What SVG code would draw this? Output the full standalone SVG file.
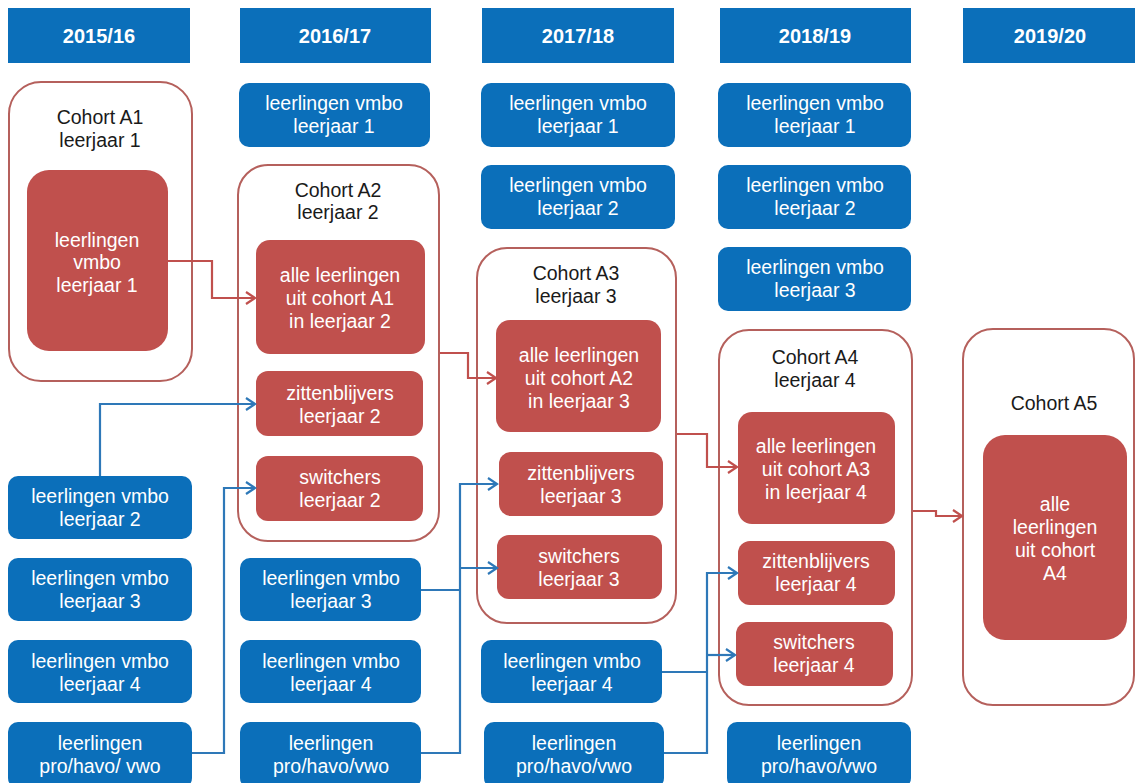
<svg xmlns="http://www.w3.org/2000/svg" width="1135" height="783" viewBox="0 0 1135 783">
<style>
text{font-family:"Liberation Sans",Arial,sans-serif;font-size:19.5px;text-anchor:middle}
.hd{fill:#0b6fba}
.hdt{fill:#fff;font-weight:bold;font-size:20px}
.bl{fill:#0b6fba}
.rd{fill:#c0504d}
.co{fill:#fff;stroke:#b5605c;stroke-width:2}
.wt{fill:#fff}
.bk{fill:#1a1a1a}
.cr{fill:none;stroke:#c0504d;stroke-width:2.2}
.cb{fill:none;stroke:#2e78b8;stroke-width:2.2}
</style>
<defs>
<marker id="ar" markerUnits="userSpaceOnUse" markerWidth="14" markerHeight="14" refX="12" refY="7" orient="auto"><path d="M3,1 L12,7 L3,13" fill="none" stroke="#c0504d" stroke-width="2.2"/></marker>
<marker id="ab" markerUnits="userSpaceOnUse" markerWidth="14" markerHeight="14" refX="12" refY="7" orient="auto"><path d="M3,1 L12,7 L3,13" fill="none" stroke="#2e78b8" stroke-width="2.2"/></marker>
</defs>
<rect width="1135" height="783" fill="#fff"/>
<g id="headers">
<rect class="hd" x="8" y="8" width="182" height="55"/><text class="hdt" x="99" y="43">2015/16</text>
<rect class="hd" x="240" y="8" width="191" height="55"/><text class="hdt" x="335" y="43">2016/17</text>
<rect class="hd" x="482" y="8" width="192" height="55"/><text class="hdt" x="578" y="43">2017/18</text>
<rect class="hd" x="720" y="8" width="191" height="55"/><text class="hdt" x="815" y="43">2018/19</text>
<rect class="hd" x="963" y="8" width="172" height="55"/><text class="hdt" x="1050" y="43">2019/20</text>
</g>
<g id="cohortA1">
<rect class="co" x="9" y="82" width="183" height="299" rx="32"/>
<text class="bk" x="100" y="123.5">Cohort A1</text><text class="bk" x="100" y="146.5">leerjaar 1</text>
<rect class="rd" x="27" y="170" width="141" height="181" rx="22"/>
<text class="wt" x="97" y="246.5">leerlingen</text><text class="wt" x="97" y="268.5">vmbo</text><text class="wt" x="97" y="291.5">leerjaar 1</text>
</g>
<g id="c1-vmbo2"><rect class="bl" x="8" y="476" width="184" height="63" rx="10"/><text class="wt" x="100" y="503">leerlingen vmbo</text><text class="wt" x="100" y="526">leerjaar 2</text></g>
<g id="c1-vmbo3"><rect class="bl" x="8" y="558" width="184" height="63" rx="10"/><text class="wt" x="100" y="584.5">leerlingen vmbo</text><text class="wt" x="100" y="607.5">leerjaar 3</text></g>
<g id="c1-vmbo4"><rect class="bl" x="8" y="640" width="184" height="63" rx="10"/><text class="wt" x="100" y="667.5">leerlingen vmbo</text><text class="wt" x="100" y="690.5">leerjaar 4</text></g>
<g id="c1-pro"><rect class="bl" x="8" y="722" width="184" height="66" rx="10"/><text class="wt" x="100" y="749.5">leerlingen</text><text class="wt" x="100" y="772.5">pro/havo/ vwo</text></g>

<g id="c2-vmbo1"><rect class="bl" x="239" y="83" width="191" height="64" rx="10"/><text class="wt" x="334" y="109.5">leerlingen vmbo</text><text class="wt" x="334" y="132.5">leerjaar 1</text></g>
<g id="cohortA2">
<rect class="co" x="238" y="165" width="201" height="376" rx="30"/>
<text class="bk" x="338" y="196.5">Cohort A2</text><text class="bk" x="338" y="218.5">leerjaar 2</text>
</g>
<g id="c2-alle"><rect class="rd" x="256" y="240" width="169" height="114" rx="14"/><text class="wt" x="340" y="281.5">alle leerlingen</text><text class="wt" x="340" y="304.5">uit cohort A1</text><text class="wt" x="340" y="327.5">in leerjaar 2</text></g>
<g id="c2-zit"><rect class="rd" x="256" y="371" width="167" height="65" rx="12"/><text class="wt" x="340" y="399.5">zittenblijvers</text><text class="wt" x="340" y="422.5">leerjaar 2</text></g>
<g id="c2-sw"><rect class="rd" x="256" y="456" width="167" height="65" rx="12"/><text class="wt" x="340" y="483.5">switchers</text><text class="wt" x="340" y="506.5">leerjaar 2</text></g>
<g id="c2-vmbo3"><rect class="bl" x="240" y="558" width="181" height="63" rx="10"/><text class="wt" x="331" y="584.5">leerlingen vmbo</text><text class="wt" x="331" y="607.5">leerjaar 3</text></g>
<g id="c2-vmbo4"><rect class="bl" x="240" y="640" width="181" height="63" rx="10"/><text class="wt" x="331" y="667.5">leerlingen vmbo</text><text class="wt" x="331" y="690.5">leerjaar 4</text></g>
<g id="c2-pro"><rect class="bl" x="240" y="722" width="181" height="66" rx="10"/><text class="wt" x="331" y="749.5">leerlingen</text><text class="wt" x="331" y="772.5">pro/havo/vwo</text></g>

<g id="c3-vmbo1"><rect class="bl" x="481" y="83" width="194" height="64" rx="10"/><text class="wt" x="578" y="109.5">leerlingen vmbo</text><text class="wt" x="578" y="132.5">leerjaar 1</text></g>
<g id="c3-vmbo2"><rect class="bl" x="481" y="165" width="194" height="64" rx="10"/><text class="wt" x="578" y="191.5">leerlingen vmbo</text><text class="wt" x="578" y="214.5">leerjaar 2</text></g>
<g id="cohortA3">
<rect class="co" x="477" y="248" width="199" height="375" rx="30"/>
<text class="bk" x="576" y="279.5">Cohort A3</text><text class="bk" x="576" y="302.5">leerjaar 3</text>
</g>
<g id="c3-alle"><rect class="rd" x="496" y="320" width="165" height="112" rx="14"/><text class="wt" x="579" y="361.5">alle leerlingen</text><text class="wt" x="579" y="384.5">uit cohort A2</text><text class="wt" x="579" y="407.5">in leerjaar 3</text></g>
<g id="c3-zit"><rect class="rd" x="499" y="452" width="164" height="64" rx="12"/><text class="wt" x="581" y="479.5">zittenblijvers</text><text class="wt" x="581" y="502.5">leerjaar 3</text></g>
<g id="c3-sw"><rect class="rd" x="497" y="535" width="165" height="64" rx="12"/><text class="wt" x="579" y="562.5">switchers</text><text class="wt" x="579" y="585.5">leerjaar 3</text></g>
<g id="c3-vmbo4"><rect class="bl" x="481" y="640" width="181" height="63" rx="10"/><text class="wt" x="572" y="667.5">leerlingen vmbo</text><text class="wt" x="572" y="690.5">leerjaar 4</text></g>
<g id="c3-pro"><rect class="bl" x="484" y="722" width="180" height="66" rx="10"/><text class="wt" x="574" y="749.5">leerlingen</text><text class="wt" x="574" y="772.5">pro/havo/vwo</text></g>

<g id="c4-vmbo1"><rect class="bl" x="718" y="83" width="193" height="64" rx="10"/><text class="wt" x="815" y="109.5">leerlingen vmbo</text><text class="wt" x="815" y="132.5">leerjaar 1</text></g>
<g id="c4-vmbo2"><rect class="bl" x="718" y="165" width="193" height="64" rx="10"/><text class="wt" x="815" y="191.5">leerlingen vmbo</text><text class="wt" x="815" y="214.5">leerjaar 2</text></g>
<g id="c4-vmbo3"><rect class="bl" x="718" y="247" width="193" height="64" rx="10"/><text class="wt" x="815" y="273.5">leerlingen vmbo</text><text class="wt" x="815" y="296.5">leerjaar 3</text></g>
<g id="cohortA4">
<rect class="co" x="719" y="330" width="193" height="375" rx="30"/>
<text class="bk" x="815" y="363.5">Cohort A4</text><text class="bk" x="815" y="386.5">leerjaar 4</text>
</g>
<g id="c4-alle"><rect class="rd" x="738" y="412" width="157" height="112" rx="14"/><text class="wt" x="816" y="452.5">alle leerlingen</text><text class="wt" x="816" y="475.5">uit cohort A3</text><text class="wt" x="816" y="498.5">in leerjaar 4</text></g>
<g id="c4-zit"><rect class="rd" x="738" y="541" width="157" height="64" rx="12"/><text class="wt" x="816" y="567.5">zittenblijvers</text><text class="wt" x="816" y="590.5">leerjaar 4</text></g>
<g id="c4-sw"><rect class="rd" x="736" y="622" width="157" height="64" rx="12"/><text class="wt" x="814" y="648.5">switchers</text><text class="wt" x="814" y="671.5">leerjaar 4</text></g>
<g id="c4-pro"><rect class="bl" x="727" y="722" width="184" height="66" rx="10"/><text class="wt" x="819" y="749.5">leerlingen</text><text class="wt" x="819" y="772.5">pro/havo/vwo</text></g>

<g id="cohortA5">
<rect class="co" x="963" y="329" width="171" height="376" rx="30"/>
<text class="bk" x="1054" y="409.5">Cohort A5</text>
<rect class="rd" x="983" y="435" width="144" height="205" rx="22"/>
<text class="wt" x="1055" y="510.5">alle</text><text class="wt" x="1055" y="533.5">leerlingen</text><text class="wt" x="1055" y="556.5">uit cohort</text><text class="wt" x="1055" y="579.5">A4</text>
</g>

<g id="connectors">
<path class="cr" d="M168,261 H212 V298 H255" marker-end="url(#ar)"/>
<path class="cr" d="M440,353 H468 V378 H496" marker-end="url(#ar)"/>
<path class="cr" d="M677,434 H707 V467 H737" marker-end="url(#ar)"/>
<path class="cr" d="M913,511 H936 V516 H962" marker-end="url(#ar)"/>
<path class="cb" d="M100,476 V404 H255" marker-end="url(#ab)"/>
<path class="cb" d="M192,753 H224 V488 H255" marker-end="url(#ab)"/>
<path class="cb" d="M421,590 H460"/>
<path class="cb" d="M421,753 H460 V484 H497" marker-end="url(#ab)"/>
<path class="cb" d="M460,568 H497" marker-end="url(#ab)"/>
<path class="cb" d="M662,672 H707"/>
<path class="cb" d="M664,753 H707 V573 H737" marker-end="url(#ab)"/>
<path class="cb" d="M707,655 H735" marker-end="url(#ab)"/>
</g>
</svg>
